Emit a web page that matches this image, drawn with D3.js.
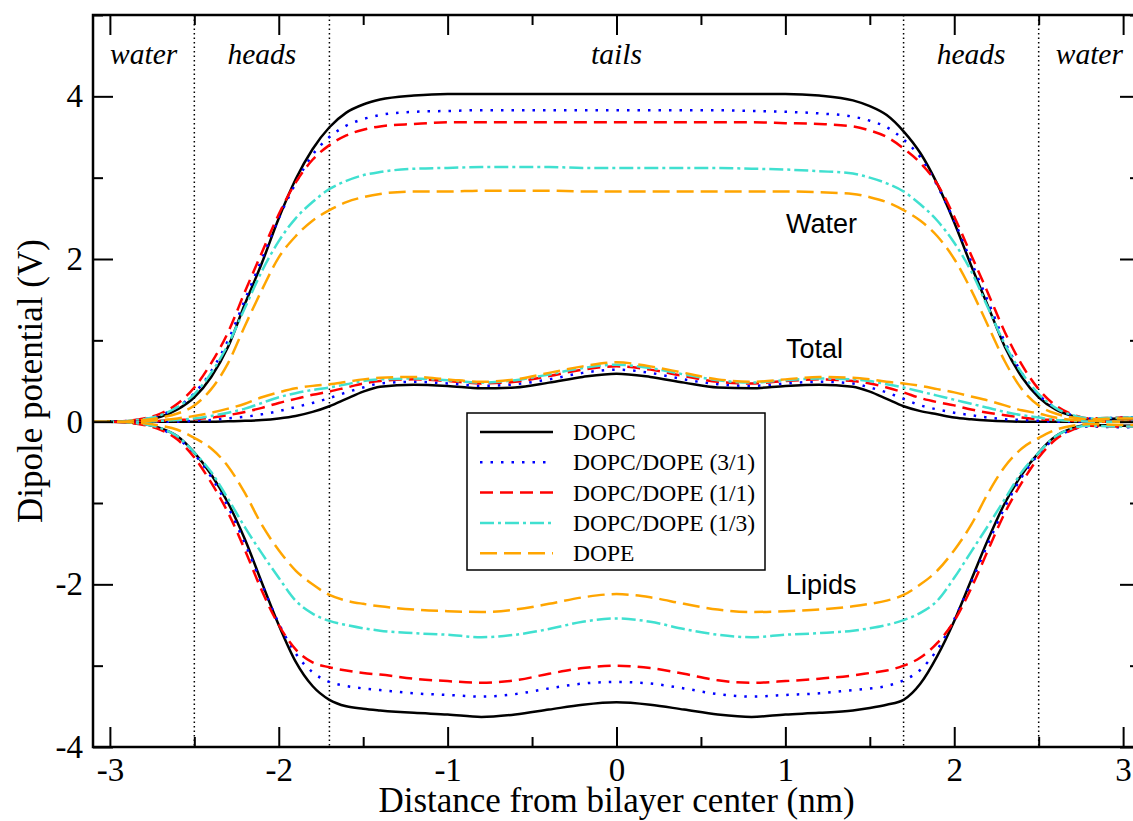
<!DOCTYPE html>
<html>
<head>
<meta charset="utf-8">
<script src="https://cdn.jsdelivr.net/npm/d3@7"></script>
<style>
  body { margin: 0; background: #fff; }
  svg { display: block; }
  .tick text { font-family: "Liberation Serif", "Times New Roman", serif; font-size: 33px; fill: #000; }
  .region { font-family: "Liberation Serif", serif; font-style: italic; font-size: 29.5px; }
  .group-label { font-family: "Liberation Sans", Arial, sans-serif; font-size: 27px; }
  .axis-title { font-family: "Liberation Serif", serif; font-size: 35px; }
  .legend text { font-family: "Liberation Serif", serif; font-size: 23.5px; }
</style>
</head>
<body>
<div id="chart"></div>
<script>
// distance from bilayer center (nm)
const xs = [-3.1,-3.0,-2.8,-2.7,-2.6,-2.5,-2.4,-2.3,-2.2,-2.1,-2.0,-1.9,-1.8,-1.7,-1.6,-1.5,-1.4,-1.2,-1.0,-0.8,-0.6,-0.4,-0.2,
  0,
  0.2,0.4,0.6,0.8,1.0,1.2,1.4,1.5,1.6,1.7,1.8,1.9,2.0,2.1,2.2,2.3,2.4,2.5,2.6,2.7,2.8,3.0,3.1]

const seriesNames = ['DOPC', 'DOPC/DOPE (3/1)', 'DOPC/DOPE (1/1)', 'DOPC/DOPE (1/3)', 'DOPE']

// water contribution (V)
const waterDOPC = [0,0,0.02,0.06,0.15,0.3,0.55,0.92,1.45,1.95,2.5,2.98,3.35,3.62,3.8,3.9,3.96,4.01,4.03,4.03,4.03,4.03,4.03,
  4.03,
  4.03,4.03,4.03,4.03,4.03,4.01,3.95,3.88,3.77,3.57,3.3,2.92,2.45,1.92,1.42,0.92,0.55,0.3,0.15,0.07,0.03,0.04,0.04]
const water31 = [0,0,0.03,0.08,0.18,0.35,0.62,1.0,1.5,2.0,2.5,2.93,3.28,3.5,3.64,3.72,3.77,3.81,3.82,3.83,3.83,3.83,3.83,
  3.83,
  3.83,3.83,3.83,3.82,3.81,3.79,3.75,3.7,3.62,3.47,3.25,2.9,2.47,1.97,1.48,0.98,0.6,0.33,0.17,0.08,0.04,0.05,0.06]
const water11 = [0,0,0.04,0.1,0.22,0.42,0.72,1.1,1.6,2.08,2.55,2.94,3.22,3.4,3.52,3.59,3.63,3.66,3.68,3.68,3.68,3.68,3.68,
  3.68,
  3.68,3.68,3.68,3.68,3.67,3.66,3.63,3.58,3.5,3.36,3.18,2.92,2.52,2.05,1.58,1.1,0.7,0.4,0.2,0.09,0.04,0.05,0.05]
const water13 = [0,0,0.03,0.08,0.18,0.34,0.6,0.95,1.4,1.85,2.22,2.5,2.7,2.86,2.96,3.03,3.07,3.11,3.12,3.13,3.13,3.13,3.12,
  3.12,
  3.12,3.12,3.12,3.11,3.1,3.08,3.05,3.0,2.93,2.83,2.67,2.47,2.2,1.85,1.4,0.95,0.6,0.34,0.17,0.08,0.04,0.05,0.05]
const waterDOPE = [0,0,0.02,0.05,0.1,0.2,0.4,0.72,1.18,1.62,2.02,2.28,2.47,2.6,2.7,2.76,2.8,2.83,2.83,2.84,2.84,2.84,2.83,
  2.83,
  2.83,2.83,2.83,2.83,2.83,2.82,2.8,2.76,2.7,2.6,2.47,2.28,2.0,1.62,1.18,0.74,0.4,0.2,0.1,0.05,0.03,0.04,0.04]

// total (V)
const totalDOPC = [0,0,0,0,0,0,0,0.005,0.01,0.02,0.04,0.07,0.12,0.19,0.28,0.37,0.43,0.455,0.44,0.41,0.42,0.48,0.55,
  0.59,
  0.55,0.48,0.42,0.41,0.44,0.455,0.43,0.37,0.28,0.19,0.13,0.09,0.05,0.03,0.015,0.005,0,0,0,0,0,0,0]
const total31 = [0,0,0,0,0,0.01,0.02,0.04,0.06,0.09,0.13,0.18,0.23,0.29,0.36,0.42,0.47,0.49,0.47,0.44,0.46,0.52,0.6,
  0.64,
  0.6,0.52,0.46,0.44,0.47,0.49,0.47,0.42,0.36,0.28,0.2,0.15,0.11,0.08,0.05,0.03,0.02,0.01,0,0,0,0,0]
const total11 = [0,0,0,0.01,0.02,0.03,0.05,0.08,0.12,0.17,0.23,0.28,0.33,0.37,0.42,0.47,0.5,0.52,0.5,0.47,0.49,0.56,0.64,
  0.68,
  0.64,0.56,0.49,0.47,0.5,0.52,0.5,0.47,0.42,0.36,0.29,0.24,0.2,0.15,0.11,0.08,0.05,0.03,0.02,0.01,0,0,0]
const total13 = [0,0,0,0.01,0.02,0.04,0.07,0.11,0.16,0.23,0.3,0.35,0.39,0.42,0.46,0.5,0.52,0.53,0.51,0.48,0.51,0.58,0.66,
  0.70,
  0.66,0.58,0.51,0.48,0.51,0.53,0.52,0.5,0.46,0.42,0.37,0.32,0.27,0.22,0.17,0.12,0.08,0.05,0.02,0.01,0,0,0]
const totalDOPE = [0,0,0.01,0.02,0.04,0.07,0.11,0.16,0.22,0.3,0.36,0.41,0.44,0.46,0.49,0.52,0.54,0.55,0.52,0.49,0.52,0.6,0.68,
  0.73,
  0.68,0.6,0.52,0.49,0.52,0.55,0.54,0.52,0.49,0.47,0.44,0.4,0.36,0.31,0.26,0.2,0.14,0.1,0.05,0.02,0.01,0,0]

// lipid contribution (V)
const lipidDOPC = [0,0,-0.03,-0.08,-0.18,-0.38,-0.65,-1.0,-1.45,-1.98,-2.5,-2.95,-3.25,-3.42,-3.5,-3.53,-3.55,-3.58,-3.6,-3.63,-3.6,-3.54,-3.48,
  -3.45,
  -3.48,-3.54,-3.6,-3.63,-3.6,-3.58,-3.55,-3.52,-3.48,-3.42,-3.22,-2.88,-2.45,-1.95,-1.45,-1.0,-0.65,-0.38,-0.18,-0.08,-0.04,-0.05,-0.05]
const lipid31 = [0,0,-0.03,-0.09,-0.2,-0.4,-0.68,-1.05,-1.5,-2.0,-2.48,-2.85,-3.08,-3.2,-3.25,-3.28,-3.3,-3.34,-3.36,-3.38,-3.35,-3.28,-3.22,
  -3.2,
  -3.22,-3.28,-3.35,-3.38,-3.36,-3.34,-3.3,-3.28,-3.25,-3.18,-3.05,-2.8,-2.43,-1.98,-1.5,-1.05,-0.68,-0.4,-0.2,-0.1,-0.06,-0.07,-0.07]
const lipid11 = [0,0,-0.04,-0.1,-0.22,-0.44,-0.75,-1.12,-1.58,-2.08,-2.5,-2.8,-2.96,-3.02,-3.06,-3.09,-3.11,-3.16,-3.19,-3.21,-3.18,-3.1,-3.03,
  -3.0,
  -3.03,-3.1,-3.18,-3.21,-3.19,-3.16,-3.12,-3.09,-3.06,-3.0,-2.9,-2.72,-2.45,-2.05,-1.58,-1.12,-0.75,-0.44,-0.22,-0.1,-0.05,-0.06,-0.06]
const lipid13 = [0,0,-0.03,-0.08,-0.18,-0.38,-0.62,-0.95,-1.3,-1.62,-1.92,-2.2,-2.36,-2.45,-2.5,-2.54,-2.57,-2.6,-2.62,-2.65,-2.62,-2.55,-2.46,
  -2.42,
  -2.46,-2.55,-2.62,-2.65,-2.62,-2.6,-2.57,-2.54,-2.5,-2.44,-2.35,-2.2,-1.92,-1.6,-1.28,-0.95,-0.62,-0.38,-0.18,-0.08,-0.05,-0.06,-0.06]
const lipidDOPE = [0,0,-0.02,-0.05,-0.1,-0.2,-0.33,-0.55,-0.88,-1.27,-1.58,-1.83,-2.0,-2.13,-2.2,-2.24,-2.27,-2.31,-2.33,-2.34,-2.31,-2.24,-2.16,
  -2.12,
  -2.16,-2.24,-2.31,-2.34,-2.33,-2.31,-2.27,-2.24,-2.2,-2.13,-2.0,-1.83,-1.58,-1.27,-0.88,-0.55,-0.33,-0.2,-0.1,-0.05,-0.03,-0.04,-0.04]

const xMajor = [-3,-2,-1,0,1,2,3]
const xMinor = [-2.5,-1.5,-0.5,0.5,1.5,2.5]
const yMajor = [-4,-2,0,2,4]
const yMinor = [-3,-1,1,3,5]
const boundaries = [-2.5,-1.7,1.7,2.5]
const regions = [['water',-2.8],['heads',-2.1],['tails',0],['heads',2.1],['water',2.8]]

const colors = ['#000000','#0000ff','#ff0000','#40e0d0','#ffa500']
const dashes = [null,'2.5,8','13,7','14,4,3,4','17,7']

const width = 1133, height = 821
const margin = {left: 93, top: 15, right: 1140, bottom: 747}

const x = d3.scaleLinear().domain([-3.1,3.1]).range([margin.left, margin.right])
const y = d3.scaleLinear().domain([-4,5]).range([margin.bottom, margin.top])

const svg = d3.select('#chart').append('svg')
.attr('width', width)
.attr('height', height)

svg.append('rect').attr('width', width).attr('height', height).attr('fill', '#fff')

svg.append('defs').append('clipPath').attr('id', 'plot-clip')
.append('rect')
.attr('x', margin.left).attr('y', margin.top)
.attr('width', margin.right - margin.left).attr('height', margin.bottom - margin.top)

// region boundaries
svg.selectAll('.boundary')
.data(boundaries)
.enter()
.append('line')
.attr('class', 'boundary')
.attr('x1', d => x(d)).attr('x2', d => x(d))
.attr('y1', margin.top).attr('y2', margin.bottom)
.attr('stroke', '#000')
.attr('stroke-width', 1.5)
.attr('stroke-dasharray', '1.5,3')

const line = d3.line()
.x((d, i) => x(xs[i]))
.y(d => y(d))
.curve(d3.curveMonotoneX)

const groups = [
  [waterDOPC, water31, water11, water13, waterDOPE],
  [totalDOPC, total31, total11, total13, totalDOPE],
  [lipidDOPC, lipid31, lipid11, lipid13, lipidDOPE]
]

const plot = svg.append('g').attr('clip-path', 'url(#plot-clip)')

groups.forEach(g => {
  g.forEach((vals, i) => {
    plot.append('path')
    .datum(vals)
    .attr('d', line)
    .attr('fill', 'none')
    .attr('stroke', colors[i])
    .attr('stroke-width', 2.5)
    .attr('stroke-dasharray', dashes[i])
  })
})

// axes, ticks inward
svg.append('g')
.attr('transform', `translate(0,${margin.bottom})`)
.call(d3.axisBottom(x).tickValues(xMajor).tickSize(-20).tickPadding(11).tickFormat(d3.format('d')))

svg.append('g')
.attr('transform', `translate(0,${margin.bottom})`)
.call(d3.axisBottom(x).tickValues(xMinor).tickSize(-10).tickFormat(''))

svg.append('g')
.attr('transform', `translate(0,${margin.top})`)
.call(d3.axisTop(x).tickValues(xMajor).tickSize(-20).tickFormat(''))

svg.append('g')
.attr('transform', `translate(0,${margin.top})`)
.call(d3.axisTop(x).tickValues(xMinor).tickSize(-10).tickFormat(''))

svg.append('g')
.attr('transform', `translate(${margin.left},0)`)
.call(d3.axisLeft(y).tickValues(yMajor).tickSize(-20).tickPadding(10).tickFormat(d3.format('d')))

svg.append('g')
.attr('transform', `translate(${margin.left},0)`)
.call(d3.axisLeft(y).tickValues(yMinor).tickSize(-10).tickFormat(''))

svg.append('g')
.attr('transform', `translate(${margin.right},0)`)
.call(d3.axisRight(y).tickValues(yMajor).tickSize(-20).tickFormat(''))

svg.append('g')
.attr('transform', `translate(${margin.right},0)`)
.call(d3.axisRight(y).tickValues(yMinor).tickSize(-10).tickFormat(''))

svg.selectAll('.domain').remove()
svg.selectAll('.tick line').attr('stroke', '#000').attr('stroke-width', 2)
svg.selectAll('.tick text').text(function() { return this.textContent.replace('\u2212', '-') })

svg.append('rect')
.attr('x', margin.left).attr('y', margin.top)
.attr('width', margin.right - margin.left).attr('height', margin.bottom - margin.top)
.attr('fill', 'none')
.attr('stroke', '#000')
.attr('stroke-width', 2.5)

// region labels
svg.selectAll('.region')
.data(regions)
.enter()
.append('text')
.attr('class', 'region')
.attr('x', d => x(d[1]))
.attr('y', 64)
.attr('text-anchor', 'middle')
.text(d => d[0])

// group labels
const groupLabels = [['Water', 233], ['Total', 358], ['Lipids', 594]]
svg.selectAll('.group-label')
.data(groupLabels)
.enter()
.append('text')
.attr('class', 'group-label')
.attr('x', 786)
.attr('y', d => d[1])
.text(d => d[0])

// axis titles
svg.append('text')
.attr('class', 'axis-title')
.attr('x', x(0))
.attr('y', 812)
.attr('text-anchor', 'middle')
.text('Distance from bilayer center (nm)')

svg.append('text')
.attr('class', 'axis-title')
.attr('transform', `translate(42,${(margin.top + margin.bottom) / 2}) rotate(-90)`)
.attr('text-anchor', 'middle')
.text('Dipole potential (V)')

// legend
const legend = svg.append('g').attr('class', 'legend')

legend.append('rect')
.attr('x', 467).attr('y', 413)
.attr('width', 298).attr('height', 157)
.attr('fill', '#fff')
.attr('stroke', '#000')
.attr('stroke-width', 1.5)

seriesNames.forEach((name, i) => {
  const ly = 432 + i * 30.3
  legend.append('line')
  .attr('x1', 480).attr('x2', 553)
  .attr('y1', ly).attr('y2', ly)
  .attr('stroke', colors[i])
  .attr('stroke-width', 2.5)
  .attr('stroke-dasharray', dashes[i])

  legend.append('text')
  .attr('x', 573)
  .attr('y', ly + 8)
  .text(name)
})
</script>
</body>
</html>
